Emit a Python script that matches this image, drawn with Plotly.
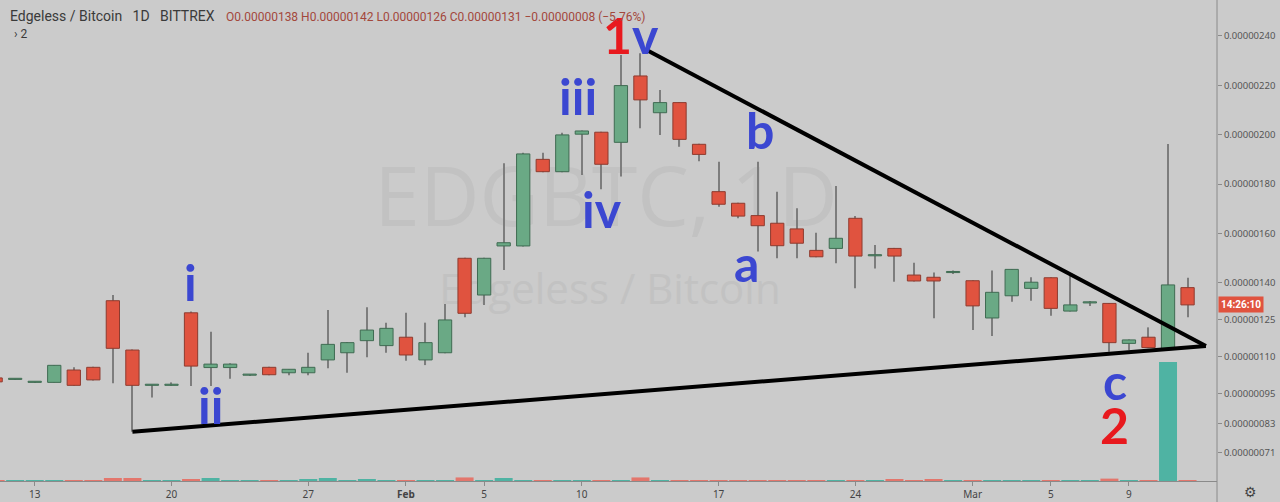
import plotly.graph_objects as go
import pandas as pd

# ---------------- data (prices in units of 1e-8 BTC) ----------------
dates = pd.date_range("2020-01-11", "2020-03-12", freq="D")

open_ = [101.4, 100.8, 99.6, 99.6, 104.6, 105.7, 132.7, 112.7, 98.4, 98.4,
         127.8, 105.6, 105.6, 102.5, 105.7, 103.5, 103.5, 108.7, 111.6, 116.5,
         114.5, 117.9, 108.7, 111.6, 149.9, 135.0, 154.9, 154.9, 190.0, 185.0,
         200.2, 201.0, 196.9, 223.8, 208.9, 213.0, 196.1, 176.9, 172.2, 167.2,
         164.1, 161.8, 153.1, 153.9, 166.1, 150.9, 153.9, 143.1, 142.2, 144.1,
         140.8, 125.7, 134.7, 137.7, 142.0, 128.5, 131.8, 131.6, 115.4, 117.9,
         113.1, 138.0]
high = [101.6, 100.9, 99.7, 106.6, 105.7, 105.9, 135.0, 112.9, 98.6, 99.6,
        128.3, 120.1, 107.3, 102.6, 105.9, 105.0, 111.6, 128.9, 116.0, 130.0,
        123.8, 127.8, 123.8, 131.4, 150.1, 150.1, 188.4, 192.7, 192.7, 200.8,
        201.7, 201.2, 232.3, 233.0, 218.1, 213.2, 196.3, 189.0, 172.4, 189.0,
        176.9, 170.2, 160.2, 179.2, 167.0, 155.3, 154.1, 148.1, 144.1, 144.9,
        141.0, 144.9, 145.6, 142.2, 142.2, 142.7, 132.6, 131.8, 117.0, 121.9,
        196.2, 142.0]
low = [99.6, 100.7, 99.5, 99.5, 98.2, 100.4, 99.2, 79.6, 93.5, 98.2,
       98.1, 98.1, 101.1, 102.4, 102.5, 102.5, 102.5, 105.3, 103.5, 109.8,
       111.6, 108.4, 106.6, 111.4, 126.0, 131.0, 145.1, 154.7, 184.8, 184.8,
       183.7, 177.9, 183.0, 202.6, 199.9, 195.1, 189.2, 170.8, 166.1, 152.6,
       149.9, 149.9, 150.3, 147.9, 137.7, 145.8, 140.4, 140.5, 125.6, 143.5,
       120.8, 118.4, 132.3, 132.7, 126.6, 128.3, 130.6, 112.0, 112.7, 113.5,
       112.9, 126.0]
close = [99.8, 100.9, 99.7, 106.5, 98.4, 100.6, 113.4, 98.4, 98.5, 98.5,
         106.2, 107.0, 107.0, 102.6, 102.7, 104.9, 105.7, 115.0, 115.7, 120.8,
         121.5, 110.7, 115.7, 124.9, 127.6, 149.9, 156.2, 192.2, 185.0, 199.9,
         201.5, 188.0, 219.9, 214.1, 213.0, 198.1, 192.0, 171.8, 167.0, 163.1,
         155.0, 156.0, 150.5, 158.0, 150.8, 151.0, 150.8, 140.7, 140.7, 144.2,
         130.6, 136.1, 145.4, 140.2, 129.6, 131.0, 131.9, 115.7, 116.8, 113.7,
         139.1, 131.0]
volume = [0.3, 0.3, 0.3, 0.3, 0.3, 0.3, 2.5, 2.5, 0.3, 0.3,
          1.7, 2.5, 0.3, 0.3, 0.3, 0.3, 1.2, 2.5, 0.3, 1.7,
          0.3, 0.5, 0.3, 0.3, 3.0, 0.3, 2.5, 0.3, 0.5, 0.3,
          0.8, 0.3, 0.8, 3.0, 0.3, 0.3, 0.3, 0.3, 0.3, 0.5,
          0.3, 0.5, 0.3, 0.3, 0.3, 0.3, 1.7, 0.3, 1.7, 0.3,
          0.3, 0.3, 0.3, 0.3, 0.3, 0.3, 0.3, 2.0, 0.3, 0.3,
          100.0, 0.5]

ytick_vals = [240, 220, 200, 180, 160, 140, 125, 110, 95, 83, 71]
xtick_dates = ["2020-01-13", "2020-01-20", "2020-01-27", "2020-02-01", "2020-02-05",
               "2020-02-10", "2020-02-17", "2020-02-24", "2020-03-01", "2020-03-05",
               "2020-03-09"]
xtick_text = ["13", "20", "27", "<b>Feb</b>", "5", "10", "17", "24", "Mar", "5", "9"]

# trendline anchors (drawn by the author of the chart)
trend_lower_start = (dates[7], low[7])
trend_upper_start = ("2020-02-13 09:20", 234.0)
trend_apex = ("2020-03-12 22:30", 114.3)

wave_labels = [  # text, color, pixel-center x, y
    ("<span style='color:#e8191e'>1</span><span style='color:#3b47d1'>v</span>", None, 631, 35),
    ("iii", "#3b47d1", 578, 96),
    ("iv", "#3b47d1", 602, 209),
    ("b", "#3b47d1", 760, 130),
    ("a", "#3b47d1", 746, 263),
    ("i", "#3b47d1", 190, 282),
    ("ii", "#3b47d1", 210, 405),
    ("c", "#3b47d1", 1115, 381),
    ("2", "#e8191e", 1114, 425),
]

# ---------------- styling ----------------
BG = "#cbcbcb"
UP_BODY, UP_LINE = "#6aa985", "#3f6b52"
DN_BODY, DN_LINE = "#e0533f", "#8e3b2f"
WICK = "#7d7d7d"
DAY_MS = 86400000
W_PX, H_PX = 1217, 481


def px(x):
    return x / W_PX


def py(y):
    return 1 - y / H_PX


up = [c >= o for o, c in zip(open_, close)]
body_base = [min(o, c) for o, c in zip(open_, close)]
body_h = [max(abs(c - o), 0.45) for o, c in zip(open_, close)]
wick_h = [h - l for h, l in zip(high, low)]

fig = go.Figure()

# volume (overlay axis)
fig.add_trace(go.Bar(
    x=dates, y=volume, yaxis="y2", width=0.92 * DAY_MS,
    marker=dict(color=["#4fb3a3" if u else "#e3766c" for u in up], line=dict(width=0)),
    hoverinfo="skip", showlegend=False))

# wicks
fig.add_trace(go.Bar(
    x=dates, y=wick_h, base=low, width=0.055 * DAY_MS,
    marker=dict(color=WICK, line=dict(width=0)),
    hoverinfo="skip", showlegend=False))

# bodies
fig.add_trace(go.Bar(
    x=dates, y=body_h, base=body_base, width=0.68 * DAY_MS,
    marker=dict(color=[UP_BODY if u else DN_BODY for u in up],
                line=dict(color=[UP_LINE if u else DN_LINE for u in up], width=1)),
    hoverinfo="skip", showlegend=False))

shapes = []
# watermarks (below traces)
shapes.append(dict(type="rect", xref="paper", yref="paper", x0=px(296), x1=px(916),
                   y0=py(240), y1=py(160), layer="below", line=dict(width=0),
                   fillcolor="rgba(0,0,0,0)",
                   label=dict(text="EDGBTC, 1D", textposition="middle center",
                              font=dict(family="Open Sans", size=82, color="#c2c2c2"))))
shapes.append(dict(type="rect", xref="paper", yref="paper", x0=px(400), x1=px(820),
                   y0=py(310), y1=py(270), layer="below", line=dict(width=0),
                   fillcolor="rgba(0,0,0,0)",
                   label=dict(text="Edgeless / Bitcoin", textposition="middle center",
                              font=dict(family="Open Sans", size=42, color="#c2c2c2"))))
# trend lines
for p0 in (trend_lower_start, trend_upper_start):
    shapes.append(dict(type="line", xref="x", yref="y", x0=p0[0], y0=p0[1],
                       x1=trend_apex[0], y1=trend_apex[1],
                       line=dict(color="black", width=4)))
# right axis line extending into the bottom strip
shapes.append(dict(type="line", xref="paper", yref="paper", x0=1, x1=1, y0=-0.05, y1=1,
                   line=dict(color="#8a8a8a", width=1)))

annotations = []
for text, color, x, y in wave_labels:
    font = dict(family="Lato", size=50, weight="bold")
    if color:
        font["color"] = color
    annotations.append(dict(text=text, xref="paper", yref="paper", x=px(x), y=py(y),
                            xanchor="center", yanchor="middle", showarrow=False, font=font))

annotations.append(dict(text="Edgeless / Bitcoin&nbsp;&nbsp;&nbsp;1D&nbsp;&nbsp;&nbsp;BITTREX",
                        xref="paper", yref="paper", x=px(8), y=py(16), xanchor="left",
                        yanchor="middle", showarrow=False,
                        font=dict(family="Roboto", size=14, color="#3a3a3a")))
annotations.append(dict(text="O0.00000138 H0.00000142 L0.00000126 C0.00000131 "
                             "\u22120.00000008 (\u22125.76%)",
                        xref="paper", yref="paper", x=px(224), y=py(17), xanchor="left",
                        yanchor="middle", showarrow=False,
                        font=dict(family="Roboto", size=12, color="#a3473b")))
annotations.append(dict(text="\u203a 2", xref="paper", yref="paper", x=px(12), y=py(34),
                        xanchor="left", yanchor="middle", showarrow=False,
                        font=dict(family="Roboto", size=12, color="#3a3a3a")))
annotations.append(dict(text="<b>14:26:10</b>", xref="paper", yref="y", x=1, y=close[-1],
                        xanchor="left", yanchor="middle", xshift=1, showarrow=False,
                        bgcolor="#e0533f", borderpad=2,
                        font=dict(family="Roboto", size=10, color="white")))
annotations.append(dict(text="\u2699", xref="paper", yref="paper", x=px(1250), y=py(492),
                        xanchor="center", yanchor="middle", showarrow=False,
                        font=dict(family="DejaVu Sans", size=14, color="#444")))

fig.update_layout(
    width=1280, height=502,
    margin=dict(l=0, r=63, t=0, b=21),
    paper_bgcolor=BG, plot_bgcolor=BG,
    barmode="overlay", showlegend=False,
    shapes=shapes, annotations=annotations,
    xaxis=dict(type="date", range=["2020-01-11 05:22", "2020-03-13 12:09"],
               tickvals=xtick_dates, ticktext=xtick_text, showgrid=False, zeroline=False,
               showline=True, linecolor="#8a8a8a", linewidth=1,
               ticks="outside", ticklen=4, tickcolor="#8a8a8a",
               tickfont=dict(family="Noto Sans", size=10, color="#444"),
               fixedrange=True),
    yaxis=dict(side="right", range=[59.62, 254.59], tickvals=ytick_vals,
               ticktext=[f"{v * 1e-8:.8f}" for v in ytick_vals],
               showgrid=False, zeroline=False, showline=False,
               ticks="outside", ticklen=4, tickcolor="#8a8a8a",
               tickfont=dict(family="Noto Sans", size=9.5, color="#555")),
    yaxis2=dict(overlaying="y", range=[0, 404], visible=False, fixedrange=True),
)

fig.write_html("out.html", config={"displayModeBar": False},
               post_script="document.body.style.margin='0';"
                           "document.body.style.overflow='hidden';"
                           f"document.body.style.background='{BG}';")
